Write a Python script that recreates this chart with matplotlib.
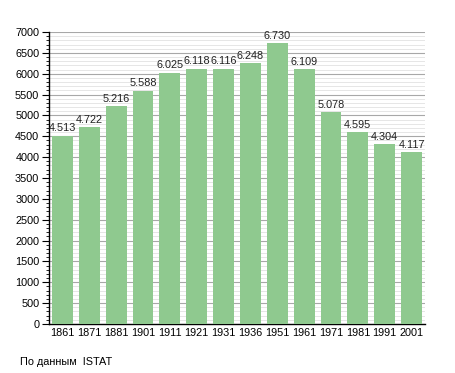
import matplotlib
matplotlib.use('Agg')
import matplotlib.pyplot as plt
from matplotlib.ticker import MultipleLocator

# data
years = ['1861', '1871', '1881', '1901', '1911', '1921', '1931',
         '1936', '1951', '1961', '1971', '1981', '1991', '2001']
population = [4513, 4722, 5216, 5588, 6025, 6118, 6116,
              6248, 6730, 6109, 5078, 4595, 4304, 4117]
source = 'По данным  ISTAT'

plt.rcParams['font.family'] = ['Liberation Sans', 'DejaVu Sans']

fig = plt.figure(figsize=(4.55, 3.73), dpi=100)
ax = fig.add_axes([49/455, 49/373, 376/455, 292/373])

x = range(len(years))
bars = ax.bar(x, population, width=0.78, color='#8fc98f', zorder=3)

for xi, v in zip(x, population):
    lab = f'{v:,}'.replace(',', '.')
    ax.text(xi, v + 60, lab, ha='center', va='bottom', fontsize=7.8,
            color='#222222', zorder=4)

ax.set_xlim(-0.5, len(years) - 0.5)
ax.set_ylim(0, 7000)
ax.set_xticks(list(x))
ax.set_xticklabels(years)
ax.yaxis.set_major_locator(MultipleLocator(500))
ax.yaxis.set_minor_locator(MultipleLocator(100))
ax.grid(axis='y', which='major', color='#a8a8a8', linewidth=0.8, zorder=1)
ax.grid(axis='y', which='minor', color='#e2e2e2', linewidth=0.6, zorder=1)

for s in ['top', 'right']:
    ax.spines[s].set_visible(False)
ax.spines['left'].set_linewidth(1.0)
ax.spines['bottom'].set_linewidth(1.0)
ax.tick_params(axis='x', length=0, labelsize=7.8, pad=3)
ax.tick_params(axis='y', which='major', length=5, labelsize=7.8, pad=2)
ax.tick_params(axis='y', which='minor', length=2.5)

fig.text(20/455, 1 - 362/373, source, fontsize=7.8, va='center', ha='left')

fig.savefig('out.png', dpi=100)
